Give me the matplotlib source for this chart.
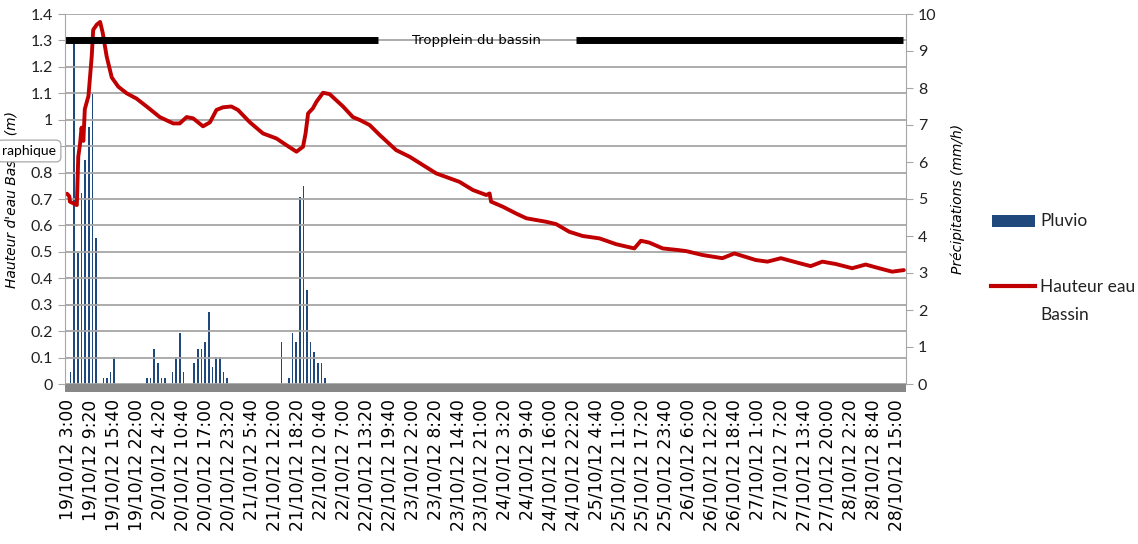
import numpy as np
import matplotlib
matplotlib.use("Agg")
import matplotlib.pyplot as plt
from matplotlib.patches import Rectangle
from matplotlib.lines import Line2D

# water level in the basin (hours since 19/10/12 3:00, metres)
level_hours = [0.0, 0.65, 0.8, 2.7, 3.1, 3.6, 4.0, 4.5, 4.9, 5.9, 6.8, 7.2, 8.2, 9.1,
               9.8, 10.9, 12.3, 14.1, 16.4, 19.1, 21.9, 25.5, 29.2, 31.0, 32.9, 34.7,
               37.4, 39.3, 41.1, 42.9, 45.2, 47.0, 50.3, 53.9, 57.6, 60.3, 63.1, 64.9,
               65.6, 66.3, 67.6, 68.6, 70.4, 72.2, 75.9, 78.6, 80.5, 83.2, 86.0, 90.5,
               94.2, 101.5, 107.9, 111.6, 115.3, 116.2, 116.6, 119.8, 123.5, 126.3,
               131.7, 134.5, 138.1, 141.8, 146.4, 151.0, 156.0, 157.8, 160.1, 163.8,
               167.9, 170.2, 174.8, 180.2, 183.5, 189.4, 192.6, 196.3, 200.9, 204.5,
               207.7, 211.4, 215.9, 219.6, 223.3, 226.9, 230.1]
level_m = [0.72, 0.71, 0.69, 0.677, 0.86, 0.91, 0.97, 0.92, 1.04, 1.09, 1.24, 1.34, 1.36,
           1.37, 1.33, 1.24, 1.16, 1.125, 1.10, 1.08, 1.05, 1.01, 0.986, 0.986, 1.01,
           1.005, 0.975, 0.99, 1.037, 1.047, 1.05, 1.037, 0.99, 0.948, 0.929, 0.904,
           0.879, 0.898, 0.948, 1.024, 1.043, 1.068, 1.102, 1.097, 1.05, 1.01, 0.999,
           0.98, 0.942, 0.885, 0.86, 0.797, 0.765, 0.734, 0.715, 0.721, 0.69, 0.671,
           0.645, 0.627, 0.614, 0.605, 0.576, 0.56, 0.551, 0.529, 0.513, 0.542, 0.535,
           0.513, 0.507, 0.503, 0.488, 0.476, 0.494, 0.469, 0.463, 0.476, 0.459, 0.446,
           0.463, 0.454, 0.438, 0.452, 0.438, 0.425, 0.431]

# rainfall (hours since 19/10/12 3:00, mm/h)
rain_hours = [1, 2, 3, 4, 5, 6, 7, 8, 10, 11, 12, 13,
              22, 23, 24, 25, 26, 27, 29, 30, 31, 32,
              35, 36, 37, 38, 39, 40, 41, 42, 43, 44,
              59, 61, 62, 63, 64, 65, 66, 67, 68, 69, 70, 71]
rain_mmh = [0.33, 9.2, 3.53, 5.17, 6.05, 6.95, 7.84, 3.94, 0.15, 0.15, 0.33, 0.74,
            0.15, 0.15, 0.94, 0.56, 0.15, 0.15, 0.33, 0.74, 1.37, 0.33,
            0.56, 0.94, 0.94, 1.14, 1.94, 0.45, 0.74, 0.74, 0.33, 0.15,
            1.14, 0.15, 1.37, 1.14, 5.06, 5.36, 2.54, 1.14, 0.86, 0.56, 0.56, 0.15]

overflow_level = 1.3

tick_labels = ["19/10/12 3:00", "19/10/12 9:20", "19/10/12 15:40", "19/10/12 22:00",
               "20/10/12 4:20", "20/10/12 10:40", "20/10/12 17:00", "20/10/12 23:20",
               "21/10/12 5:40", "21/10/12 12:00", "21/10/12 18:20", "22/10/12 0:40",
               "22/10/12 7:00", "22/10/12 13:20", "22/10/12 19:40", "23/10/12 2:00",
               "23/10/12 8:20", "23/10/12 14:40", "23/10/12 21:00", "24/10/12 3:20",
               "24/10/12 9:40", "24/10/12 16:00", "24/10/12 22:20", "25/10/12 4:40",
               "25/10/12 11:00", "25/10/12 17:20", "25/10/12 23:40", "26/10/12 6:00",
               "26/10/12 12:20", "26/10/12 18:40", "27/10/12 1:00", "27/10/12 7:20",
               "27/10/12 13:40", "27/10/12 20:00", "28/10/12 2:20", "28/10/12 8:40",
               "28/10/12 15:00"]
tick_step_h = 380 / 60  # one label every 6h20

grid_col = "#A6A6A6"
blue = "#1F497D"
red = "#C00000"

fig = plt.figure(figsize=(11.38, 5.44), dpi=100)
ax = fig.add_axes([65 / 1138, 1 - 384 / 544, 841 / 1138, 370 / 544])
ax2 = ax.twinx()
ax.set_zorder(ax2.get_zorder() + 1)
ax.patch.set_visible(False)

# rainfall bars on the right axis
ax2.bar(rain_hours, rain_mmh, width=0.45, color=blue, linewidth=0)
ax2.set_ylim(0, 10)
ax2.set_yticks(range(0, 11))

# water level on the left axis
ax.plot(level_hours, level_m, color=red, lw=2.8, solid_joinstyle="round",
        solid_capstyle="round")
ax.axhline(overflow_level, xmin=0, xmax=0.372, color="black", lw=5, solid_capstyle="butt")
ax.axhline(overflow_level, xmin=0.608, xmax=0.996, color="black", lw=5, solid_capstyle="butt")
ax.text(0.489, overflow_level, "Tropplein du bassin", transform=ax.get_yaxis_transform(),
        ha="center", va="center", fontsize=9.5, family="DejaVu Sans")

ax.set_ylim(0, 1.4)
ax.set_yticks(np.arange(0, 15) / 10)
ax.set_yticklabels(["0", "0.1", "0.2", "0.3", "0.4", "0.5", "0.6", "0.7", "0.8", "0.9",
                    "1", "1.1", "1.2", "1.3", "1.4"])
ax.set_xlim(-0.55, 230.7)
ax.set_xticks(np.arange(len(tick_labels)) * tick_step_h)
ax.set_xticklabels(tick_labels, rotation=90, fontsize=12.3, family="DejaVu Sans")
ax.tick_params(axis="x", length=0, pad=11)
ax.grid(axis="y", color=grid_col, lw=1.3)
ax.set_axisbelow(True)

for a in (ax, ax2):
    for s in ("top", "bottom"):
        a.spines[s].set_visible(False)
    a.spines["left"].set_color(grid_col)
    a.spines["right"].set_color(grid_col)
    a.tick_params(axis="y", colors=grid_col, length=5, labelcolor="#222222", labelsize=11.5)
    for lab in a.get_yticklabels():
        lab.set_family("Lato")
ax.spines["right"].set_visible(False)
ax2.spines["left"].set_visible(False)

# thick grey category axis
ax.add_patch(Rectangle((0, -0.021), 1, 0.021, transform=ax.transAxes, clip_on=False,
                       color="#878787", lw=0))

ax.set_ylabel("Hauteur d'eau Bassin (m)", style="italic", fontsize=10, labelpad=9)
ax2.set_ylabel("Précipitations (mm/h)", style="italic", fontsize=10, labelpad=10)

# Excel tooltip left over on the picture
fig.text(2 / 1138, 1 - 151 / 544, "raphique", fontsize=10, family="Lato", va="center",
         bbox=dict(boxstyle="round,pad=0.35", fc="white", ec="#B0B0B0"), zorder=10)

# legend, drawn by hand to keep Excel's layout
W, H = 1138, 544
fig.patches.append(Rectangle((992 / W, 1 - 227 / H), 43 / W, 12 / H,
                             transform=fig.transFigure, color=blue, lw=0))
fig.lines.append(Line2D([991 / W, 1035 / W], [1 - 286 / H, 1 - 286 / H],
                        transform=fig.transFigure, color=red, lw=3))
fig.text(1040 / W, 1 - 221 / H, "Pluvio", fontsize=12.5, family="Lato", va="center",
         color="#222222")
fig.text(1040 / W, 1 - 287 / H, "Hauteur eau", fontsize=12.5, family="Lato", va="center",
         color="#222222")
fig.text(1040 / W, 1 - 315 / H, "Bassin", fontsize=12.5, family="Lato", va="center",
         color="#222222")

fig.savefig("out.png", dpi=100)
